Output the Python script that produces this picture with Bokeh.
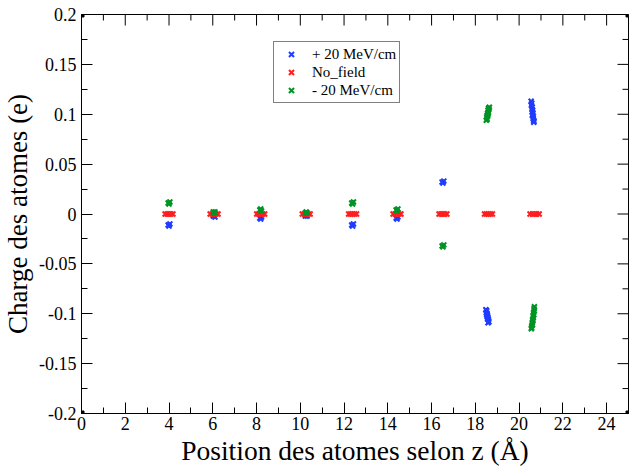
from bokeh.plotting import figure
from bokeh.models import (FixedTicker, CustomJSTickFormatter, Legend,
                          LegendItem, Range1d)
from bokeh.embed import file_html
from bokeh.resources import INLINE

# ---------------- data ----------------
x_ticks = [0, 2, 4, 6, 8, 10, 12, 14, 16, 18, 20, 22, 24]
x_minor = [1, 3, 5, 7, 9, 11, 13, 15, 17, 19, 21, 23, 25]
y_ticks = [-0.2, -0.15, -0.1, -0.05, 0.0, 0.05, 0.1, 0.15, 0.2]
y_minor = [-0.175, -0.125, -0.075, -0.025, 0.025, 0.075, 0.125, 0.175]

# + 20 MeV/cm
plus_x = [3.96, 4.00, 4.04,
          6.02, 6.06, 6.10,
          8.15, 8.19, 8.23,
          10.23, 10.27, 10.31,
          12.35, 12.39, 12.43,
          14.38, 14.42, 14.46,
          16.48, 16.52, 16.56,
          18.48, 18.52, 18.50, 18.54, 18.52, 18.56, 18.54, 18.58, 18.56, 18.60, 18.62, 18.58,
          20.55, 20.58, 20.56, 20.60, 20.59, 20.62, 20.61, 20.63, 20.60, 20.65, 20.64, 20.66, 20.68, 20.67]
plus_y = [-0.011, -0.012, -0.010,
          -0.002, -0.001, -0.003,
          -0.004, -0.005, -0.003,
          -0.002, -0.001, -0.002,
          -0.011, -0.012, -0.010,
          -0.004, -0.005, -0.003,
          0.032, 0.031, 0.033,
          -0.096, -0.097, -0.099, -0.100, -0.101, -0.102, -0.103, -0.104, -0.105, -0.106, -0.108, -0.109,
          0.113, 0.111, 0.109, 0.107, 0.105, 0.104, 0.102, 0.101, 0.099, 0.098, 0.096, 0.094, 0.093, 0.092]

# No_field
none_x = [3.82, 3.91, 4.00, 4.09, 4.18,
          5.88, 5.97, 6.06, 6.15, 6.24,
          8.01, 8.10, 8.19, 8.28, 8.37,
          10.09, 10.18, 10.27, 10.36, 10.45,
          12.21, 12.30, 12.39, 12.48, 12.57,
          14.24, 14.33, 14.42, 14.51, 14.60,
          16.34, 16.43, 16.52, 16.61, 16.70,
          18.42, 18.51, 18.60, 18.69, 18.78,
          20.50, 20.61, 20.71, 20.81, 20.92]
none_y = [0.0, 0.0, 0.0, 0.0, 0.0,
          0.0, 0.0, 0.0, 0.0, 0.0,
          0.0, 0.0, 0.0, 0.0, 0.0,
          0.0, 0.0, 0.0, 0.0, 0.0,
          0.0, 0.0, 0.0, 0.0, 0.0,
          0.0, 0.0, 0.0, 0.0, 0.0,
          0.0, 0.0, 0.0, 0.0, 0.0,
          0.0, 0.0, 0.0, 0.0, 0.0,
          0.0, 0.0, 0.0, 0.0, 0.0]

# - 20 MeV/cm
minus_x = [3.96, 4.00, 4.04,
           6.02, 6.06, 6.10,
           8.15, 8.19, 8.23,
           10.23, 10.27, 10.31,
           12.35, 12.39, 12.43,
           14.38, 14.42, 14.46,
           16.48, 16.52, 16.56,
           18.64, 18.60, 18.62, 18.58, 18.60, 18.56, 18.58, 18.54, 18.56, 18.52, 18.54, 18.50,
           20.70, 20.68, 20.69, 20.66, 20.67, 20.64, 20.65, 20.62, 20.63, 20.60, 20.61, 20.58, 20.57, 20.56]
minus_y = [0.011, 0.010, 0.012,
           0.002, 0.001, 0.002,
           0.004, 0.005, 0.003,
           0.001, 0.002, 0.001,
           0.011, 0.010, 0.012,
           0.004, 0.003, 0.005,
           -0.032, -0.033, -0.031,
           0.107, 0.106, 0.105, 0.104, 0.102, 0.101, 0.100, 0.099, 0.098, 0.097, 0.095, 0.094,
           -0.093, -0.095, -0.097, -0.099, -0.101, -0.102, -0.104, -0.106, -0.107, -0.109, -0.111, -0.112, -0.114, -0.115]

corner_x = [0, 0, 25, 25]
corner_y = [0.2, -0.2, -0.2, 0.2]

series_labels = ["+ 20 MeV/cm", "No_field", "- 20 MeV/cm"]
x_label = "Position des atomes selon z (Å)"
y_label = "Charge des atomes (e)"

# ---------------- plot ----------------
FONT = "Liberation Serif"
BLUE = "#1f3cff"
RED = "#ff1e1e"
GREEN = "#009424"

X0, X1 = 0, 25
Y0, Y1 = -0.2, 0.2
W, H = 629, 472
BL, BR, BT, BB = 81, 1, 14, 59
FW, FH = W - BL - BR, H - BT - BB

p = figure(width=W, height=H, x_range=Range1d(X0, X1), y_range=Range1d(Y0, Y1),
           output_backend="svg", toolbar_location=None,
           min_border_left=BL, min_border_right=BR, min_border_top=BT, min_border_bottom=BB)
p.outline_line_color = "black"
p.outline_line_width = 1
p.grid.visible = False
p.background_fill_color = "white"
p.border_fill_color = "white"

fmt = CustomJSTickFormatter(code="""
    let s = tick.toFixed(3);
    s = s.replace(/0+$/, '').replace(/\\.$/, '');
    if (s === '-0') s = '0';
    return s;
""")

MAJ, MIN = 11, 6


def style_axis(ax):
    ax.axis_line_color = "black"
    ax.axis_line_width = 1
    ax.major_tick_line_color = "black"
    ax.minor_tick_line_color = "black"
    ax.major_tick_in = MAJ
    ax.major_tick_out = 0
    ax.minor_tick_in = MIN
    ax.minor_tick_out = 0
    ax.major_label_text_font = FONT
    ax.major_label_text_color = "black"
    ax.major_label_text_font_size = "18px"
    ax.axis_label_text_font = FONT
    ax.axis_label_text_font_style = "normal"
    ax.axis_label_text_color = "black"


xa = p.xaxis[0]
xa.ticker = FixedTicker(ticks=x_ticks, minor_ticks=x_minor)
xa.formatter = fmt
xa.axis_label = x_label
style_axis(xa)
xa.major_label_standoff = 3
xa.axis_label_standoff = 2
xa.axis_label_text_font_size = "27.5px"

ya = p.yaxis[0]
ya.ticker = FixedTicker(ticks=y_ticks, minor_ticks=y_minor)
ya.formatter = fmt
ya.axis_label = y_label
style_axis(ya)
ya.major_label_standoff = 5
ya.axis_label_standoff = 3
ya.axis_label_text_font_size = "27px"

# mirrored inward ticks on the top and right edges
dy_maj = (Y1 - Y0) * MAJ / FH
dy_min = (Y1 - Y0) * MIN / FH
dx_maj = (X1 - X0) * MAJ / FW
dx_min = (X1 - X0) * MIN / FW
p.segment(x0=x_ticks, y0=[Y1] * len(x_ticks), x1=x_ticks, y1=[Y1 - dy_maj] * len(x_ticks),
          line_color="black", line_width=1)
p.segment(x0=x_minor, y0=[Y1] * len(x_minor), x1=x_minor, y1=[Y1 - dy_min] * len(x_minor),
          line_color="black", line_width=1)
p.segment(x0=[X1] * len(y_ticks), y0=y_ticks, x1=[X1 - dx_maj] * len(y_ticks), y1=y_ticks,
          line_color="black", line_width=1)
p.segment(x0=[X1] * len(y_minor), y0=y_minor, x1=[X1 - dx_min] * len(y_minor), y1=y_minor,
          line_color="black", line_width=1)

r_plus = p.scatter(plus_x, plus_y, marker="x", size=7, line_width=2, line_color=BLUE)
r_none = p.scatter(none_x, none_y, marker="x", size=7, line_width=2, line_color=RED)
r_minus = p.scatter(minus_x, minus_y, marker="x", size=7, line_width=2, line_color=GREEN)
p.scatter(corner_x, corner_y, marker="square", size=5, fill_color="black", line_color="black")

LEG_H = 3 * 18 + 2 * 3
legend = Legend(items=[LegendItem(label=series_labels[0], renderers=[r_plus]),
                       LegendItem(label=series_labels[1], renderers=[r_none]),
                       LegendItem(label=series_labels[2], renderers=[r_minus])],
                location=(192, FH - 29 - LEG_H))
legend.label_text_font = FONT
legend.label_text_font_size = "15px"
legend.label_text_color = "black"
legend.padding = 3
legend.margin = 0
legend.spacing = 0
legend.glyph_width = 28
legend.glyph_height = 18
legend.label_height = 18
legend.label_standoff = 7
legend.border_line_color = "black"
legend.border_line_width = 1
legend.background_fill_alpha = 1
p.add_layout(legend, "center")

open("out.html", "w").write(file_html(p, INLINE))
